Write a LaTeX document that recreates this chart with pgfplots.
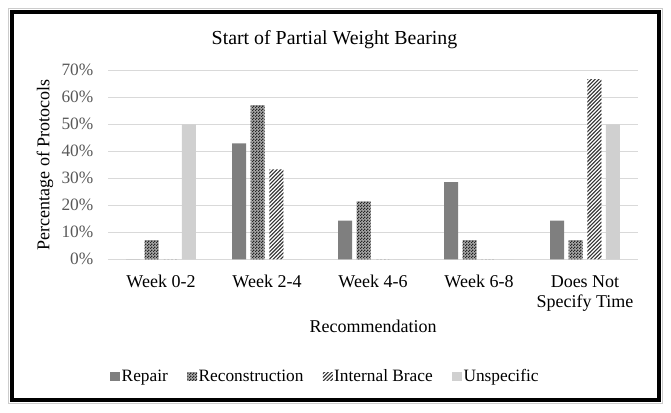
\documentclass[border=0pt]{standalone}
\usepackage{pgfplots}
\pgfplotsset{compat=1.18}
\usepackage{fontspec}
\setmainfont{Liberation Serif}
\usetikzlibrary{patterns}
\pgfdeclarepatternformonly{checker}{\pgfpointorigin}{\pgfqpoint{2pt}{2pt}}{\pgfqpoint{2pt}{2pt}}{%
 \pgfpathrectangle{\pgfpointorigin}{\pgfqpoint{1pt}{1pt}}%
 \pgfpathrectangle{\pgfqpoint{1pt}{1pt}}{\pgfqpoint{1pt}{1pt}}%
 \pgfusepath{fill}}
\pgfdeclarepatternformonly{diag}{\pgfqpoint{-1pt}{-1pt}}{\pgfqpoint{4pt}{4pt}}{\pgfqpoint{2.8pt}{2.8pt}}{%
 \pgfsetlinewidth{0.8pt}%
 \pgfpathmoveto{\pgfqpoint{-0.1pt}{-0.1pt}}%
 \pgfpathlineto{\pgfqpoint{2.9pt}{2.9pt}}%
 \pgfusepath{stroke}}
\definecolor{repair}{HTML}{7F7F7F}
\definecolor{unspec}{HTML}{D0D0D0}
\definecolor{tickgray}{HTML}{595959}
\newcommand{\chartfont}{\fontsize{13.5}{15.2}\selectfont}
\newcommand{\smallchartfont}{\fontsize{13}{15}\selectfont}
\newcommand{\titlefont}{\fontsize{14.9}{17}\selectfont}
\pgfplotstableread{
x repair recon brace unspec
0 0     7.1   0    50
1 42.9  57.1  33.3 0
2 14.3  21.4  0    0
3 28.6  7.1   0    0
4 14.3  7.1   66.7 50
}\datatable
\begin{document}
\begin{tikzpicture}
\path[use as bounding box] (0pt,0pt) rectangle (503.25pt,309.75pt);
\draw[black!20, line width=0.75pt] (6.4pt,7.1pt) rectangle (496.5pt,303pt);
\draw[black, line width=3pt] (9pt,9.75pt) rectangle (494.25pt,300.4pt);
\begin{axis}[
 at={(81pt,115.3pt)}, anchor=south west,
 scale only axis, width=397.5pt, height=141.75pt,
 ybar=3.4pt, bar width=10.5pt,
 xmin=-0.5, xmax=4.5, ymin=0, ymax=70,
 enlargelimits=false,
 xtick={0,1,2,3,4},
 xticklabels={Week 0-2, Week 2-4, Week 4-6, Week 6-8, {\begin{tabular}[t]{@{}c@{}}Does Not\\Specify Time\end{tabular}}},
 xticklabel style={font=\chartfont, text=black, anchor=base, yshift=-21pt},
 ytick={0,10,...,70},
 yticklabel={\pgfmathprintnumber{\tick}\%},
 /pgf/number format/assume math mode=true,
 yticklabel style={font=\smallchartfont, text=tickgray, xshift=-7.5pt},
 major tick length=0pt,
 axis line style={draw=none},
 ymajorgrids,
 grid style={draw=black!15, line width=0.9pt},
 title={Start of Partial Weight Bearing},
 title style={at={(axis description cs:0.4274,1.096)}, anchor=base, font=\titlefont},
 xlabel={Recommendation},
 xlabel style={at={(axis description cs:0.5,-0.387)}, anchor=base, font=\chartfont},
 ylabel={Percentage of Protocols},
 ylabel style={at={(axis description cs:-0.119,0.499)}, anchor=center, rotate=0, font=\chartfont},
 legend columns=4,
 legend style={draw=none, fill=none, at={(axis description cs:0.004,-0.621)}, anchor=west, inner sep=0pt, font=\smallchartfont,
   /tikz/every even column/.append style={column sep=13.5pt},
   nodes={inner sep=1pt}},
 legend image code/.code={\path[#1,draw=none] (0pt,-3.2pt) rectangle (7.5pt,3.2pt);},
]
\addplot[fill=repair, draw=none] table[x=x,y=repair]{\datatable};
\addplot[fill=black!35, draw=none, postaction={pattern=checker, pattern color=black!85}] table[x=x,y=recon]{\datatable};
\addplot[fill=white, draw=none, postaction={pattern=diag, pattern color=black!80}] table[x=x,y=brace]{\datatable};
\addplot[fill=unspec, draw=none] table[x=x,y=unspec]{\datatable};
\legend{Repair, Reconstruction, Internal Brace, Unspecific}
\end{axis}
\end{tikzpicture}
\end{document}
